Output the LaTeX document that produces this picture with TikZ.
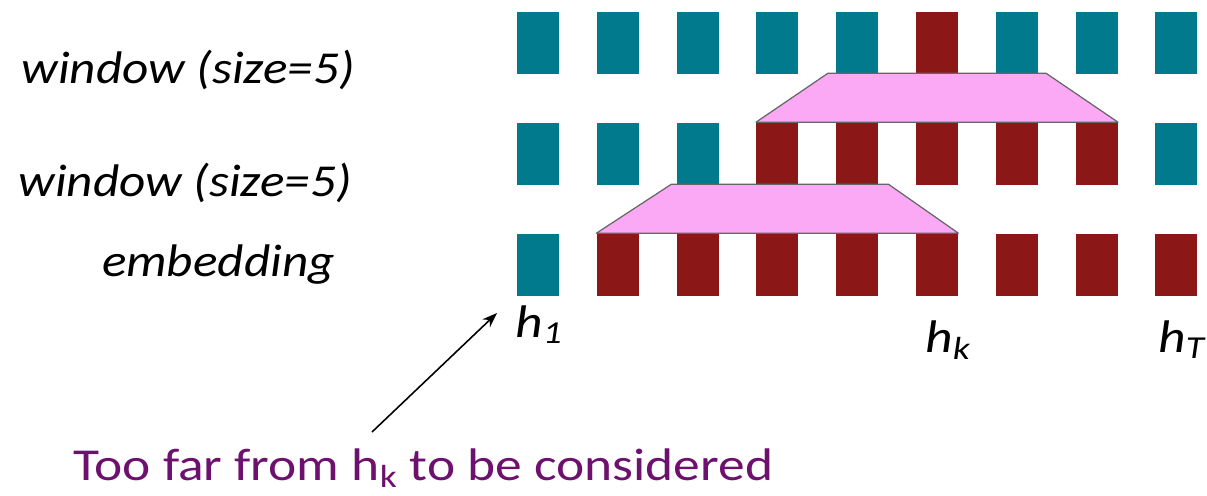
\documentclass[tikz,border=0pt]{standalone}
\usepackage{fontspec}
\setmainfont{Carlito}
\usetikzlibrary{arrows.meta, positioning, calc}
\definecolor{hteal}{RGB}{0,122,140}
\definecolor{hred}{RGB}{139,23,23}
\definecolor{winpink}{RGB}{251,169,245}
\definecolor{notepurple}{RGB}{110,16,110}
\newcommand{\widetext}[2][1.17]{\scalebox{#1}[1]{#2}}

\begin{document}
\begin{tikzpicture}[
    x=0.02cm, y=-0.02cm, >={Stealth[length=3mm, width=2.2mm]},
    cell/.style={minimum width=0.84cm, minimum height=1.24cm,
                 inner sep=0pt},
    win/.style={draw=black!60, fill=winpink, line width=0.7pt,
                line join=round},
    lbl/.style={font=\fontsize{26}{31}\selectfont\itshape,
                inner sep=0pt}
  ]
  \useasboundingbox (0,0) rectangle (1207,495);

  % three rows of states
  \foreach \r/\y/\cols in {
      1/43/{teal,teal,teal,teal,teal,red,teal,teal,teal},
      2/153.5/{teal,teal,teal,red,red,red,red,red,teal},
      3/264.5/{teal,red,red,red,red,red,red,red,red}} {
    \foreach \c [count=\i] in \cols
      \node[cell, fill=h\c] (c\r-\i) at ({538+79.8*(\i-1)},\y) {};
  }

  % the two windows
  \draw[win] (c2-4.north west) -- ++(72,-49)
    -- ($(c2-8.north east)+(-72,-49)$) -- (c2-8.north east) -- cycle;
  \draw[win] (c3-2.north west) -- ++(75,-49)
    -- ($(c3-6.north east)+(-70,-49)$) -- (c3-6.north east) -- cycle;

  \node[lbl, anchor=base east] (wintop) at (355,83)
    {\widetext[1.12]{window (size=5)}};
  \node[lbl, anchor=base east] (winmid) at (352,196)
    {\widetext[1.12]{window (size=5)}};
  \node[lbl, anchor=base east] (embed) at (335,276)
    {\widetext[1.12]{embedding}};

  \node[lbl, anchor=base west] (h1) at (515,337) {\widetext{h\textsubscript{1}}};
  \node[lbl, anchor=base west] (hk) at (925,352) {\widetext{h\textsubscript{k}}};
  \node[lbl, anchor=base west] (hT) at (1158,352) {\widetext{h\textsubscript{T}}};

  \node[font=\fontsize{26}{31}\selectfont, text=notepurple,
        anchor=base west, inner sep=0pt] (note) at (73,480)
    {\widetext{Too far from h\textsubscript{k} to be considered}};
  \coordinate (tail) at (372,432);
  \coordinate (aim) at (497,313);
  \draw[->, line width=0.9pt] (tail) -- (aim);
\end{tikzpicture}
\end{document}
